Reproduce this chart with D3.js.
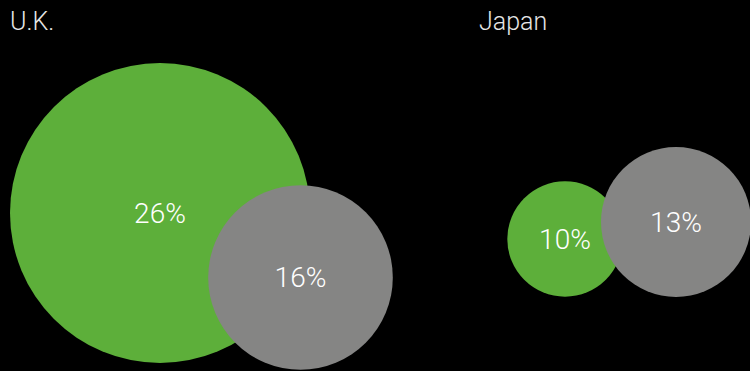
<!DOCTYPE html>
<html>
<head>
<meta charset="utf-8">
<script src="https://cdn.jsdelivr.net/npm/d3@7"></script>
<style>
  html, body { margin: 0; padding: 0; background: #000; }
  svg { display: block; }
</style>
</head>
<body>
<svg id="chart" width="750" height="371"></svg>
<script>
// ---- data ----
const countries = ["U.K.", "Japan"];
const seriesNames = ["green", "gray"];
const greenValues = [26, 10];
const grayValues = [16, 13];

// ---- layout (positions, not data) ----
const W = 750, H = 371;
const titleX = [10, 479];
const greenCenters = [[160, 213], [565, 239]];
const grayCenters = [[300.5, 277.5], [676, 222]];
const colors = { green: "#5DAF3A", gray: "#858584" };

const svg = d3.select("#chart");
svg.append("rect").attr("width", W).attr("height", H).attr("fill", "#000");

const r = d3.scaleLinear().domain([0, 26]).range([0, 150]);

const rows = countries.map((c, i) => ({
  country: c,
  titleX: titleX[i],
  circles: [
    { key: "green", value: greenValues[i], cx: greenCenters[i][0], cy: greenCenters[i][1] },
    { key: "gray", value: grayValues[i], cx: grayCenters[i][0], cy: grayCenters[i][1] }
  ]
}));

const g = svg.selectAll("g.country").data(rows).enter().append("g").attr("class", "country");

g.append("text")
  .attr("x", d => d.titleX)
  .attr("y", 30)
  .attr("fill", "#e6e6e6")
  .style("font-family", "Roboto, 'Open Sans', sans-serif")
  .style("font-weight", 300)
  .style("font-size", "25px")
  .text(d => d.country);

const cg = g.selectAll("g.bubble").data(d => d.circles).enter().append("g").attr("class", "bubble");

cg.append("circle")
  .attr("cx", d => d.cx)
  .attr("cy", d => d.cy)
  .attr("r", d => r(d.value))
  .attr("fill", d => colors[d.key]);

cg.append("text")
  .attr("x", d => d.cx)
  .attr("y", d => d.cy)
  .attr("dy", "0.35em")
  .attr("text-anchor", "middle")
  .attr("fill", "#fff")
  .style("font-family", "Roboto, 'Open Sans', sans-serif")
  .style("font-weight", 300)
  .style("font-size", "28px")
  .text(d => d.value + "%");
</script>
</body>
</html>
